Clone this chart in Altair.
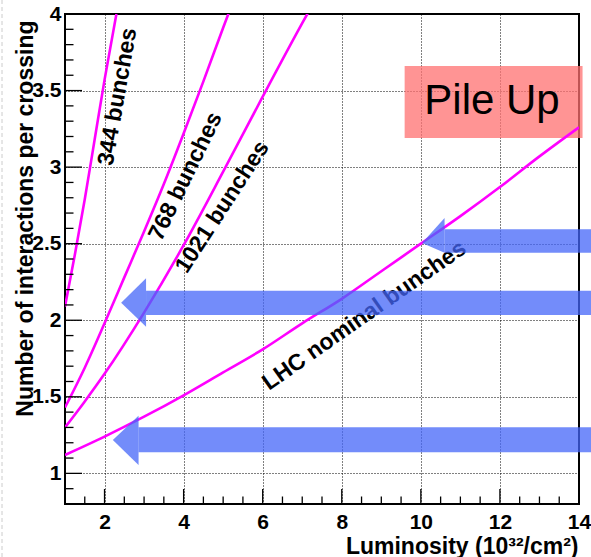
import altair as alt
import pandas as pd

# ---- curves ----
x344 = [1.0, 1.25, 1.5, 1.75, 2.0, 2.3]
y344 = [2.09, 2.43, 2.79, 3.18, 3.57, 4.00]
x768 = [1.0, 1.5, 2.0, 2.5, 3.0, 3.5, 4.0, 4.5, 5.0, 5.16]
y768 = [1.43, 1.69, 1.98, 2.28, 2.58, 2.89, 3.22, 3.56, 3.91, 4.02]
x1021 = [1.0, 1.5, 2.0, 3.0, 4.0, 5.0, 6.0, 7.0, 7.15]
y1021 = [1.30, 1.47, 1.65, 2.05, 2.49, 2.97, 3.46, 3.94, 4.01]
xnom = [1, 2, 3, 4, 5, 6, 7, 8, 9, 10, 11, 12, 13, 14]
ynom = [1.12, 1.24, 1.37, 1.51, 1.66, 1.81, 1.98, 2.14, 2.32, 2.50, 2.68, 2.87, 3.07, 3.26]

# ---- curve labels ----
lab_text = ["344 bunches", "768 bunches", "1021 bunches", "LHC nominal bunches"]
lab_x = [2.33, 4.05, 4.98, 8.57]
lab_y = [3.46, 2.94, 2.74, 2.03]
lab_angle = [280, 296, 303, 325]

# ---- arrows ----
arrow_tip_x = [10.03, 2.42, 2.21]
arrow_tip_y = [2.505, 2.115, 1.218]
arrow_base_x = [10.60, 3.05, 2.86]
arrow_head_top = [2.668, 2.274, 1.377]
arrow_head_bottom = [2.441, 1.958, 1.055]
arrow_band_top = [2.594, 2.193, 1.301]
arrow_band_bottom = [2.441, 2.034, 1.138]
arrow_end_x = [14.32, 14.32, 14.32]

# ---- "Pile Up" box ----
box_x = [9.59]
box_x2 = [14.09]
box_y = [3.191]
box_y2 = [3.661]
box_text = ["Pile Up"]
box_tx = [11.80]
box_ty = [3.43]

# ---- ticks ----
x_ticks = [2, 4, 6, 8, 10, 12, 14]
y_ticks = [1, 1.5, 2, 2.5, 3, 3.5, 4]
x_major = [2, 4, 6, 8, 10, 12]
x_minor = [1.5, 2.5, 3, 3.5, 4.5, 5, 5.5, 6.5, 7, 7.5, 8.5, 9, 9.5,
           10.5, 11, 11.5, 12.5, 13, 13.5]
y_major = [1, 1.5, 2, 2.5, 3, 3.5]
y_minor = [0.9, 1.1, 1.2, 1.3, 1.4, 1.6, 1.7, 1.8, 1.9, 2.1, 2.2, 2.3, 2.4,
           2.6, 2.7, 2.8, 2.9, 3.1, 3.2, 3.3, 3.4, 3.6, 3.7, 3.8, 3.9]

FONT = "Liberation Sans"
xs = alt.Scale(domain=[1, 14], nice=False, zero=False)
ys = alt.Scale(domain=[0.8, 4], nice=False, zero=False)

curves = pd.concat([
    pd.DataFrame({"s": "344", "x": x344, "y": y344}),
    pd.DataFrame({"s": "768", "x": x768, "y": y768}),
    pd.DataFrame({"s": "1021", "x": x1021, "y": y1021}),
    pd.DataFrame({"s": "nom", "x": xnom, "y": ynom}),
])

x_axis = alt.Axis(
    values=x_ticks, grid=True, domain=False, ticks=False, tickSize=0,
    labelPadding=7, labelFlush=False, labelOverlap=False,
    title="Luminosity (10³²/cm²)", titleAlign="right", titleAnchor="end",
    titleX=513, titleY=49, titleBaseline="alphabetic",
)
y_axis = alt.Axis(
    values=y_ticks, grid=True, domain=False, ticks=False, tickSize=0,
    labelExpr="'' + datum.value", labelPadding=4,
    labelFlush=False, labelOverlap=False,
    title="Number of interactions per crossing", titleAngle=270, titleAlign="right",
    titleX=-33, titleY=6, titleBaseline="alphabetic",
)

# axis-carrying layer
axes_layer = alt.Chart(curves).mark_point(opacity=0, size=1).encode(
    x=alt.X("x:Q", scale=xs, axis=x_axis),
    y=alt.Y("y:Q", scale=ys, axis=y_axis),
)

curve_lines = alt.Chart(curves).mark_line(
    color="#FF00FF", strokeWidth=2.6, clip=True, interpolate="monotone"
).encode(
    x=alt.X("x:Q", scale=xs),
    y=alt.Y("y:Q", scale=ys),
    detail="s:N",
)

box_df = pd.DataFrame({"x": box_x, "x2": box_x2, "y": box_y, "y2": box_y2,
                       "t": box_text, "tx": box_tx, "ty": box_ty})
box = alt.Chart(box_df).mark_rect(color="#FF7070", opacity=0.75, clip=False).encode(
    x=alt.X("x:Q", scale=xs), x2="x2:Q",
    y=alt.Y("y:Q", scale=ys), y2="y2:Q",
)
box_txt = alt.Chart(box_df).mark_text(
    font=FONT, fontSize=42, color="black", align="center", baseline="middle"
).encode(
    x=alt.X("tx:Q", scale=xs),
    y=alt.Y("ty:Q", scale=ys),
    text="t:N",
)

lab_df = pd.DataFrame({"t": lab_text, "x": lab_x, "y": lab_y, "a": lab_angle})
labels = alt.Chart(lab_df).mark_text(
    font=FONT, fontSize=23, fontWeight="bold", color="black",
    align="center", baseline="middle"
).encode(
    x=alt.X("x:Q", scale=xs),
    y=alt.Y("y:Q", scale=ys),
    text="t:N",
    angle=alt.Angle("a:Q", scale=None),
)

ARROW_COLOR = "#4466F8"
band_df = pd.DataFrame({"x": arrow_base_x, "x2": arrow_end_x,
                        "y": arrow_band_top, "y2": arrow_band_bottom})
bands = alt.Chart(band_df).mark_rect(color=ARROW_COLOR, opacity=0.75, clip=False).encode(
    x=alt.X("x:Q", scale=xs), x2="x2:Q",
    y=alt.Y("y:Q", scale=ys), y2="y2:Q",
)
head_rows = []
for i in range(3):
    head_rows.append({"a": i, "x": arrow_tip_x[i], "y": arrow_tip_y[i], "y2": arrow_tip_y[i]})
    head_rows.append({"a": i, "x": arrow_base_x[i], "y": arrow_head_top[i], "y2": arrow_head_bottom[i]})
heads = alt.Chart(pd.DataFrame(head_rows)).mark_area(
    color=ARROW_COLOR, opacity=0.75, clip=False, orient="vertical"
).encode(
    x=alt.X("x:Q", scale=xs),
    y=alt.Y("y:Q", scale=ys), y2="y2:Q",
    detail="a:N",
)

# inner tick marks
def yt(vals, length):
    return alt.Chart(pd.DataFrame({"v": vals})).mark_rule(color="black", strokeWidth=1.3).encode(
        y=alt.Y("v:Q", scale=ys), x=alt.value(0), x2=alt.value(length))

def xt(vals, length):
    return alt.Chart(pd.DataFrame({"v": vals})).mark_rule(color="black", strokeWidth=1.3).encode(
        x=alt.X("v:Q", scale=xs), y=alt.value(490), y2=alt.value(490 - length))

border = alt.Chart(pd.DataFrame({"v": [0]})).mark_rule(
    color="#cccccc", strokeDash=[4, 3], strokeWidth=1, clip=False
).encode(x=alt.value(-63), y=alt.value(-14), y2=alt.value(543))

chart = alt.layer(
    axes_layer, box, box_txt, curve_lines, labels, bands, heads,
    yt(y_major, 17), yt(y_minor, 8.5), xt(x_major, 15), xt(x_minor, 7.5), border,
).properties(
    width=514, height=490,
    background="white",
    autosize=alt.AutoSizeParams(type="none"),
    padding={"left": 65, "top": 14, "right": 12, "bottom": 53},
).configure_view(
    stroke="black", strokeWidth=2
).configure_axis(
    gridColor="black", gridDash=[1, 2], gridWidth=1, gridOpacity=1,
    labelFont=FONT, labelFontWeight="bold", labelFontSize=21, labelColor="black",
    titleFont=FONT, titleFontSize=23, titleFontWeight="bold", titleColor="black",
)

chart.save("out.html", embed_options={"renderer": "svg", "actions": False})
